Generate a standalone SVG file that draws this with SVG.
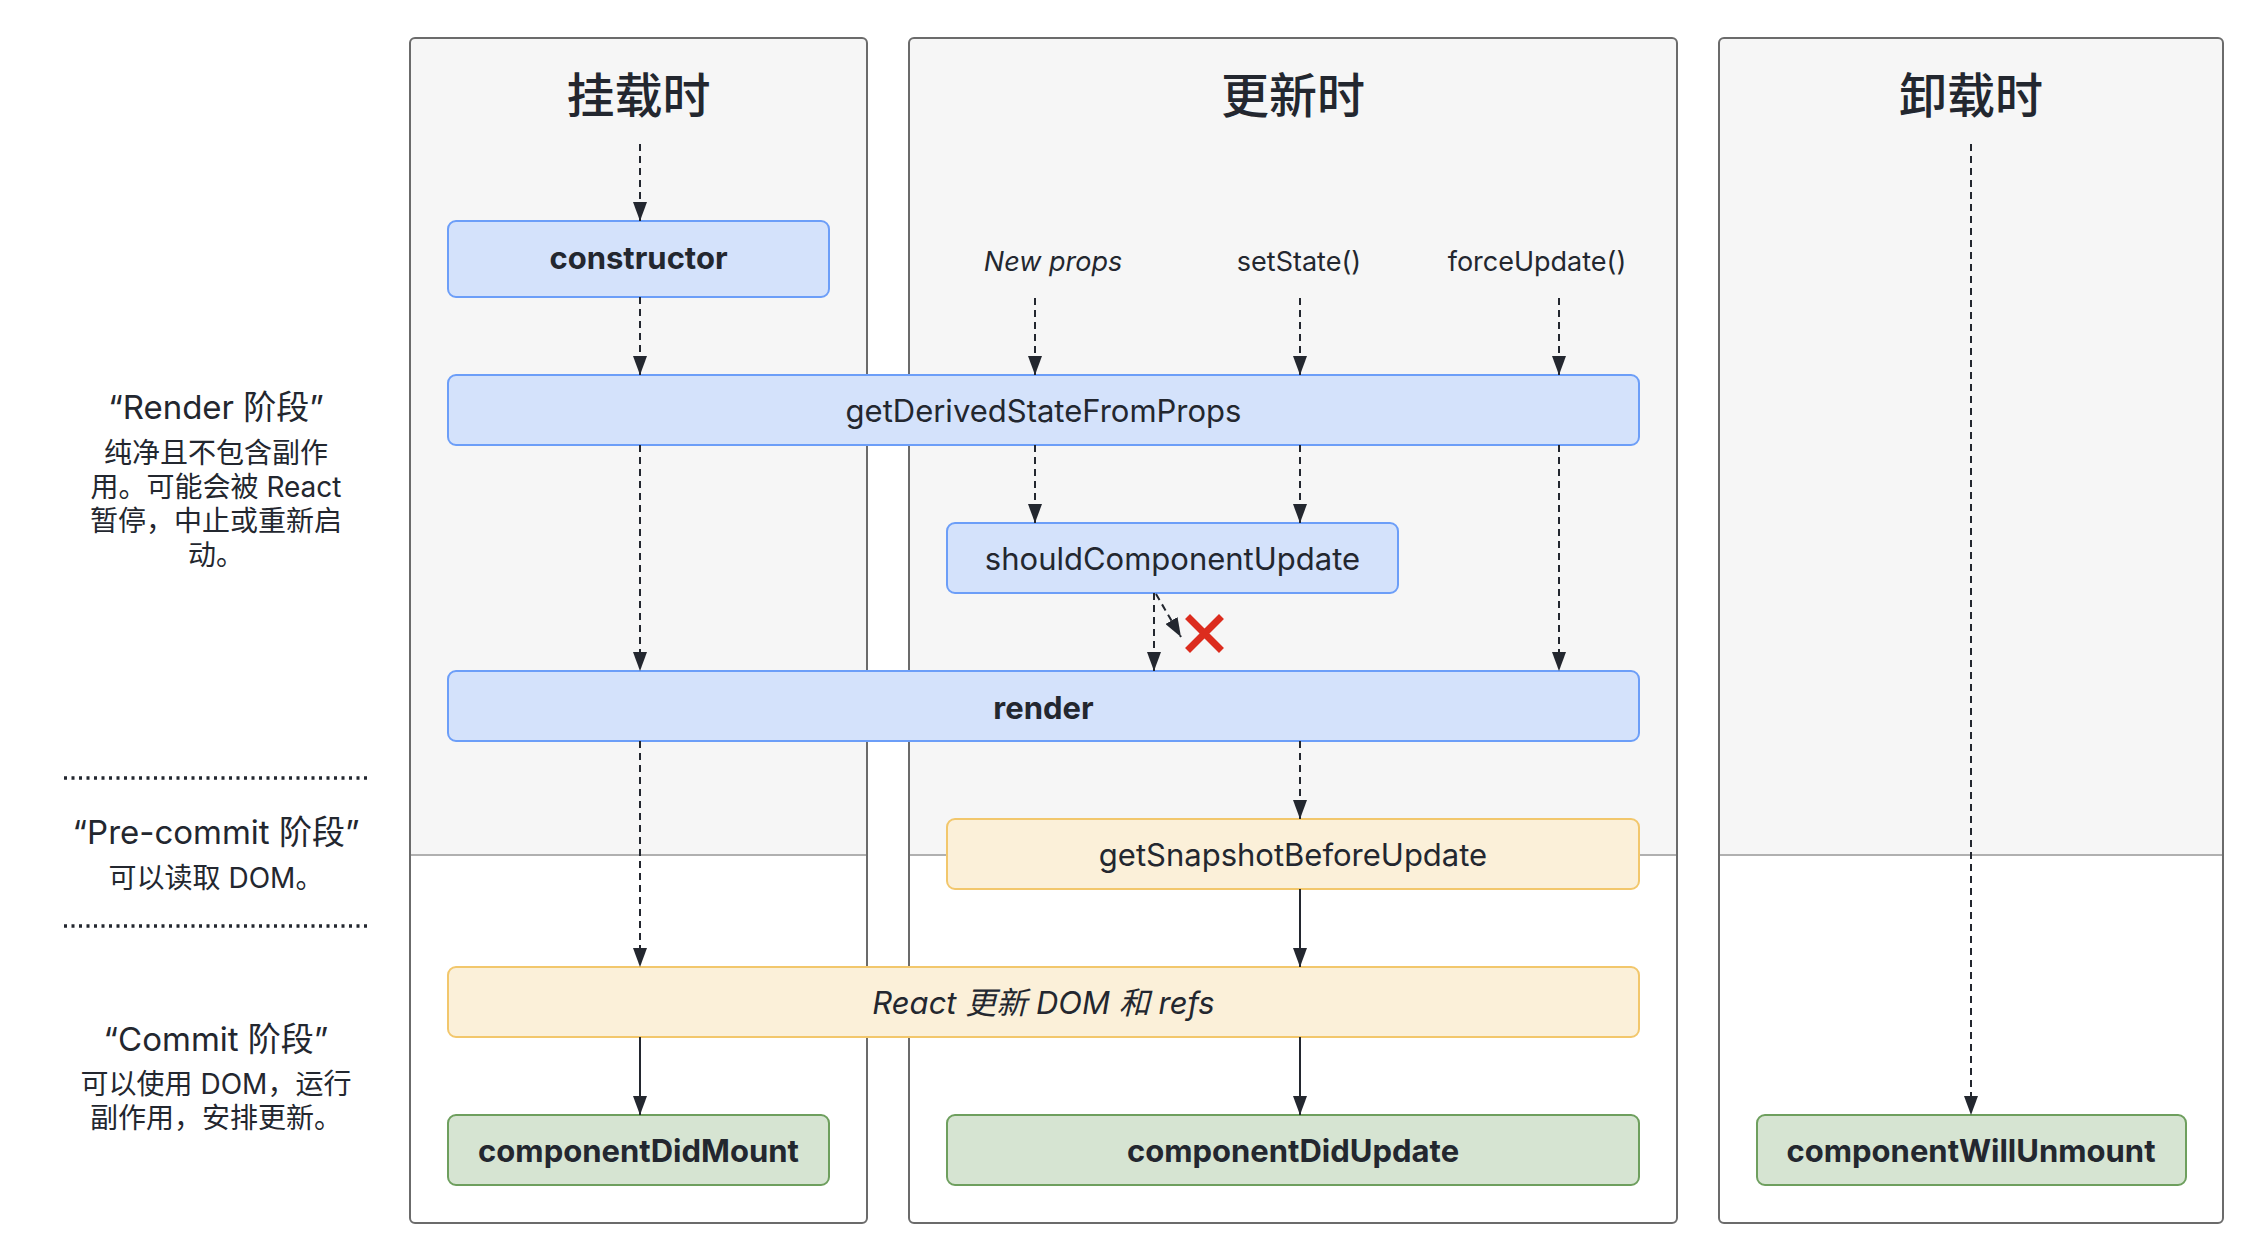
<svg xmlns="http://www.w3.org/2000/svg" width="2254" height="1260" viewBox="0 0 2254 1260">
  <defs>
    <style>
      .panel { fill: #f6f6f6; stroke: none; }
      .panel-border { fill: none; stroke: #6b6b6b; stroke-width: 2; }
      .divider { stroke: #b0b0b0; stroke-width: 2; }
      .title { font-family: "Noto Sans CJK SC", sans-serif; font-size: 48px; font-weight: 500; fill: #23272f; text-anchor: middle; }
      .blue { fill: #d4e2fb; stroke: #6c9ef8; stroke-width: 2; }
      .yellow { fill: #fbf0d9; stroke: #f2c76c; stroke-width: 2; }
      .green { fill: #d6e4d2; stroke: #6e9f5e; stroke-width: 2; }
      .nt { font-family: "Inter", "Noto Sans CJK SC", sans-serif; font-size: 31px; fill: #23272f; text-anchor: middle; }
      .b { font-weight: 700; }
      .it { font-style: italic; }
      .lbl { font-family: "Inter", "Noto Sans CJK SC", sans-serif; font-size: 27px; fill: #23272f; text-anchor: middle; }
      .side-t { font-family: "Inter", "Noto Sans CJK SC", sans-serif; font-size: 33px; fill: #23272f; text-anchor: middle; }
      .side-b { font-family: "Inter", "Noto Sans CJK SC", sans-serif; font-size: 28px; fill: #23272f; text-anchor: middle; }
      .dots { stroke: #23272f; stroke-width: 3.5; stroke-dasharray: 3 4.5; }
      .dash { fill: none; stroke: #23272f; stroke-width: 2; stroke-dasharray: 7 5; marker-end: url(#arrow); }
      .solid { fill: none; stroke: #23272f; stroke-width: 2; marker-end: url(#arrow); }
    </style>
    <marker id="arrow" markerUnits="userSpaceOnUse" markerWidth="20" markerHeight="14" refX="19" refY="7" orient="auto" viewBox="0 0 20 14">
      <path d="M0,0 L19,7 L0,14 Z" fill="#23272f"/>
    </marker>
  </defs>

  <rect x="0" y="0" width="2254" height="1260" fill="#ffffff"/>

  <!-- Phase panels -->
  <g id="panel-mount">
    <path class="panel" d="M414,38 H863 A4,4 0 0 1 867,42 V855 H410 V42 A4,4 0 0 1 414,38 Z"/>
    <line class="divider" x1="410" y1="855" x2="867" y2="855"/>
    <rect class="panel-border" x="410" y="38" width="457" height="1185" rx="5"/>
    <text class="title" x="638.5" y="113">挂载时</text>
  </g>
  <g id="panel-update">
    <path class="panel" d="M913,38 H1673 A4,4 0 0 1 1677,42 V855 H909 V42 A4,4 0 0 1 913,38 Z"/>
    <line class="divider" x1="909" y1="855" x2="1677" y2="855"/>
    <rect class="panel-border" x="909" y="38" width="768" height="1185" rx="5"/>
    <text class="title" x="1293" y="113">更新时</text>
  </g>
  <g id="panel-unmount">
    <path class="panel" d="M1723,38 H2219 A4,4 0 0 1 2223,42 V855 H1719 V42 A4,4 0 0 1 1723,38 Z"/>
    <line class="divider" x1="1719" y1="855" x2="2223" y2="855"/>
    <rect class="panel-border" x="1719" y="38" width="504" height="1185" rx="5"/>
    <text class="title" x="1971" y="113">卸载时</text>
  </g>

  <!-- Side phase labels -->
  <g id="label-render">
    <text class="side-t" x="216" y="419">“Render 阶段”</text>
    <text class="side-b" x="216" y="463">纯净且不包含副作</text>
    <text class="side-b" x="216" y="497">用。可能会被 React</text>
    <text class="side-b" x="216" y="531">暂停，中止或重新启</text>
    <text class="side-b" x="216" y="565">动。</text>
  </g>
  <g id="separators">
    <line class="dots" x1="64" y1="778" x2="370" y2="778"/>
    <line class="dots" x1="64" y1="926" x2="370" y2="926"/>
  </g>
  <g id="label-precommit">
    <text class="side-t" x="216" y="844">“Pre-commit 阶段”</text>
    <text class="side-b" x="216" y="888">可以读取 DOM。</text>
  </g>
  <g id="label-commit">
    <text class="side-t" x="216" y="1051">“Commit 阶段”</text>
    <text class="side-b" x="216" y="1094">可以使用 DOM，运行</text>
    <text class="side-b" x="216" y="1128">副作用，安排更新。</text>
  </g>

  <!-- Trigger labels -->
  <g id="trigger-newprops"><text class="lbl it" x="1053" y="271">New props</text></g>
  <g id="trigger-setstate"><text class="lbl" x="1299" y="271">setState()</text></g>
  <g id="trigger-forceupdate"><text class="lbl" x="1537" y="271">forceUpdate()</text></g>

  <!-- Nodes -->
  <g id="node-constructor">
    <rect class="blue" x="448" y="221" width="381" height="76" rx="8"/>
    <text class="nt b" x="638.5" y="269">constructor</text>
  </g>
  <g id="node-gdsfp">
    <rect class="blue" x="448" y="375" width="1191" height="70" rx="8"/>
    <text class="nt" x="1043.5" y="422">getDerivedStateFromProps</text>
  </g>
  <g id="node-scu">
    <rect class="blue" x="947" y="523" width="451" height="70" rx="8"/>
    <text class="nt" x="1172.5" y="570">shouldComponentUpdate</text>
  </g>
  <g id="node-render">
    <rect class="blue" x="448" y="671" width="1191" height="70" rx="8"/>
    <text class="nt b" x="1043.5" y="719">render</text>
  </g>
  <g id="node-gsbu">
    <rect class="yellow" x="947" y="819" width="692" height="70" rx="8"/>
    <text class="nt" x="1293" y="866">getSnapshotBeforeUpdate</text>
  </g>
  <g id="node-react-dom">
    <rect class="yellow" x="448" y="967" width="1191" height="70" rx="8"/>
    <text class="nt it" x="1043.5" y="1014">React 更新 DOM 和 refs</text>
  </g>
  <g id="node-cdm">
    <rect class="green" x="448" y="1115" width="381" height="70" rx="8"/>
    <text class="nt b" x="638.5" y="1162">componentDidMount</text>
  </g>
  <g id="node-cdu">
    <rect class="green" x="947" y="1115" width="692" height="70" rx="8"/>
    <text class="nt b" x="1293" y="1162">componentDidUpdate</text>
  </g>
  <g id="node-cwu">
    <rect class="green" x="1757" y="1115" width="429" height="70" rx="8"/>
    <text class="nt b" x="1971" y="1162">componentWillUnmount</text>
  </g>

  <!-- Connectors -->
  <g id="connectors">
    <line class="dash" x1="640" y1="144" x2="640" y2="221"/>
    <line class="dash" x1="640" y1="297" x2="640" y2="375"/>
    <line class="dash" x1="640" y1="445" x2="640" y2="671"/>
    <line class="dash" x1="640" y1="741" x2="640" y2="967"/>
    <line class="solid" x1="640" y1="1037" x2="640" y2="1115"/>

    <line class="dash" x1="1035" y1="298" x2="1035" y2="375"/>
    <line class="dash" x1="1300" y1="298" x2="1300" y2="375"/>
    <line class="dash" x1="1559" y1="298" x2="1559" y2="375"/>
    <line class="dash" x1="1035" y1="445" x2="1035" y2="523"/>
    <line class="dash" x1="1300" y1="445" x2="1300" y2="523"/>
    <line class="dash" x1="1559" y1="445" x2="1559" y2="671"/>
    <line class="dash" x1="1154" y1="593" x2="1154" y2="671"/>
    <line class="dash" x1="1156" y1="594" x2="1181" y2="637"/>
    <line class="dash" x1="1300" y1="741" x2="1300" y2="819"/>
    <line class="solid" x1="1300" y1="889" x2="1300" y2="967"/>
    <line class="solid" x1="1300" y1="1037" x2="1300" y2="1115"/>

    <line class="dash" x1="1971" y1="144" x2="1971" y2="1115"/>
  </g>

  <!-- Blocked mark -->
  <g id="blocked-mark">
    <path d="M1190,619 L1219,648 M1219,619 L1190,648" stroke="#dc2c1e" stroke-width="7" stroke-linecap="square" fill="none"/>
  </g>
</svg>
